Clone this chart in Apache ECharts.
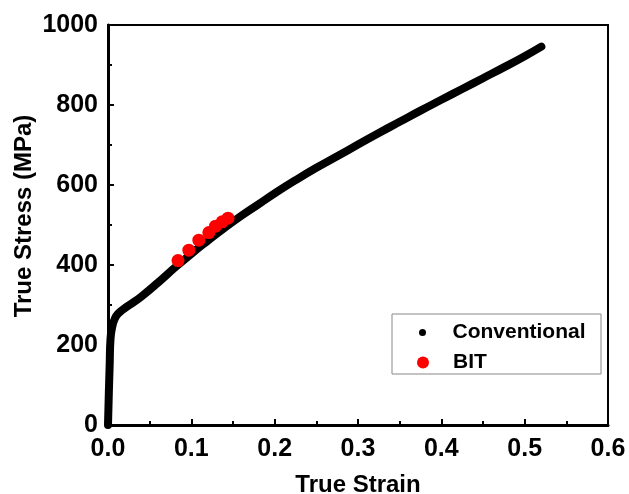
<!DOCTYPE html>
<html>
<head>
<meta charset="utf-8">
<script src="https://cdn.jsdelivr.net/npm/echarts@6/dist/echarts.min.js"></script>
<style>
  html, body { margin: 0; padding: 0; background: #fff; }
  #chart { width: 629px; height: 494px; }
</style>
</head>
<body>
<div id="chart"></div>
<script>
// conventional tensile test curve (strain, stress MPa)
const convStrain = [0, 0.001, 0.002, 0.003, 0.005, 0.008, 0.012, 0.02, 0.03, 0.04, 0.06, 0.08, 0.1, 0.12, 0.14, 0.16, 0.18, 0.2, 0.225, 0.25, 0.275, 0.3, 0.325, 0.35, 0.375, 0.4, 0.425, 0.45, 0.475, 0.5, 0.52];
const convStress = [0, 80, 150, 215, 245, 265, 278, 292, 306, 321, 356, 393, 428, 461, 493, 523, 551, 579, 612, 643, 672, 701, 730, 758, 786, 813, 840, 867, 894, 922, 946];
// BIT points
const bitStrain = [0.084, 0.097, 0.109, 0.121, 0.129, 0.137, 0.144];
const bitStress = [411, 437, 462, 481, 497, 508, 517];

const xTicks = [0, 0.1, 0.2, 0.3, 0.4, 0.5, 0.6];
const yTicks = [0, 200, 400, 600, 800, 1000];

const font = 'Arial, "Liberation Sans", sans-serif';
const chart = echarts.init(document.getElementById("chart"));

chart.setOption({
  animation: false,
  grid: {
    left: 108, right: 21, top: 25, bottom: 69,
    outerBoundsMode: "none",
    containLabel: false,
    show: true, borderColor: "#000", borderWidth: 2
  },
  xAxis: {
    type: "value",
    min: xTicks[0], max: xTicks[xTicks.length - 1], interval: 0.1,
    name: "True Strain",
    nameLocation: "middle",
    nameGap: 48,
    nameTextStyle: { fontFamily: font, fontWeight: "bold", fontSize: 24, color: "#000" },
    axisLine: { lineStyle: { color: "#000", width: 3 } },
    axisTick: { inside: true, length: 6, lineStyle: { color: "#000", width: 2 } },
    minorTick: { show: true, splitNumber: 2, length: 4, lineStyle: { color: "#000", width: 2 } },
    splitLine: { show: false },
    axisLabel: {
      margin: 12, fontFamily: font, fontWeight: "bold", fontSize: 25, color: "#000",
      formatter: (v) => v.toFixed(1)
    }
  },
  yAxis: {
    type: "value",
    min: yTicks[0], max: yTicks[yTicks.length - 1], interval: 200,
    name: "True Stress (MPa)",
    nameLocation: "middle",
    nameGap: 72,
    nameMoveOverlap: false,
    nameTextStyle: { fontFamily: font, fontWeight: "bold", fontSize: 24, color: "#000", padding: [0, 0, 0, 18] },
    axisLine: { show: true, lineStyle: { color: "#000", width: 3 } },
    axisTick: { show: true, inside: true, length: 6, lineStyle: { color: "#000", width: 2 } },
    minorTick: { show: true, splitNumber: 2, length: 4, lineStyle: { color: "#000", width: 2 } },
    splitLine: { show: false },
    axisLabel: {
      margin: 10, fontFamily: font, fontWeight: "bold", fontSize: 25, color: "#000",
      formatter: (v) => String(v)
    }
  },
  legend: [
    {
      data: [{ name: "Conventional", icon: "circle" }],
      left: 419, top: 322, padding: 0,
      itemWidth: 50, itemHeight: 7,
      textStyle: { fontFamily: font, fontWeight: "bold", fontSize: 21, color: "#000" }
    },
    {
      data: [{ name: "BIT", icon: "circle" }],
      left: 417, top: 352, padding: 0,
      itemWidth: 50, itemHeight: 12,
      textStyle: { fontFamily: font, fontWeight: "bold", fontSize: 21, color: "#000" }
    }
  ],
  graphic: [{
    type: "rect",
    shape: { x: 392, y: 314, width: 209, height: 60 },
    style: { fill: "none", stroke: "#888", lineWidth: 1 },
    z: 10
  }],
  series: [
    {
      name: "Conventional",
      type: "line",
      data: convStrain.map((x, i) => [x, convStress[i]]),
      smooth: 0.5,
      showSymbol: false,
      symbol: "circle",
      itemStyle: { color: "#000" },
      lineStyle: { color: "#000", width: 8, cap: "round", join: "round" },
      z: 2
    },
    {
      name: "BIT",
      type: "scatter",
      data: bitStrain.map((x, i) => [x, bitStress[i]]),
      symbol: "circle",
      symbolSize: 13,
      itemStyle: { color: "#ff0000", opacity: 1 },
      z: 3
    }
  ]
});
</script>
</body>
</html>
